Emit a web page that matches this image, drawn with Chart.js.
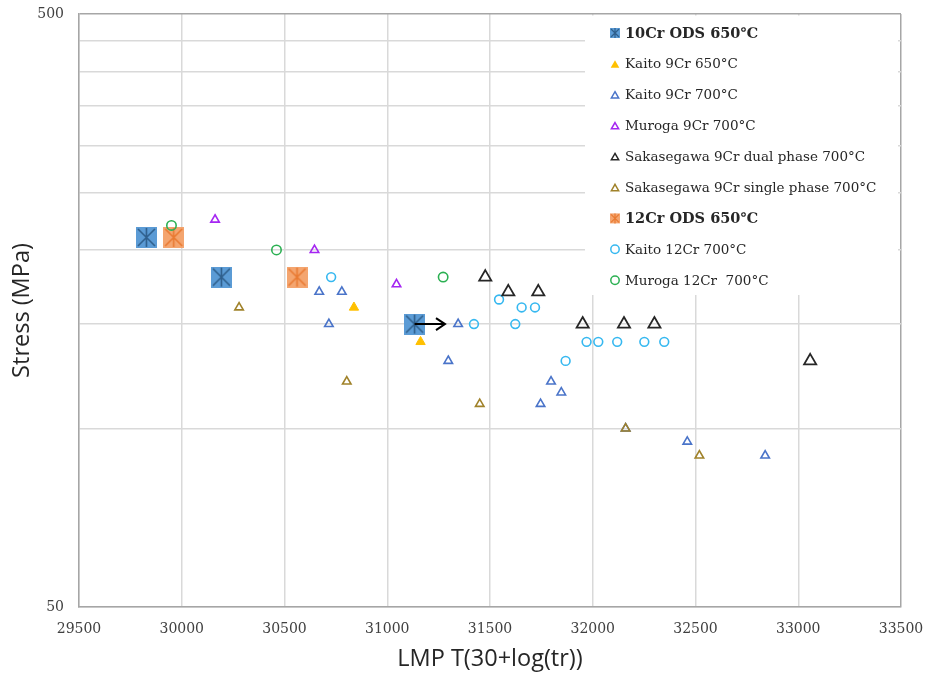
<!DOCTYPE html>
<html>
<head>
<meta charset="utf-8">
<script src="https://cdn.jsdelivr.net/npm/chart.js@4.4.1/dist/chart.umd.min.js"></script>
<style>
  html, body { margin: 0; padding: 0; background: #fff; }
  #wrap { width: 925px; height: 673px; }
</style>
</head>
<body>
<div id="wrap"><canvas id="chart" width="925" height="673"></canvas></div>
<script>
// axis ticks
const xTicks = [29500, 30000, 30500, 31000, 31500, 32000, 32500, 33000, 33500];
const yGrid = [50, 100, 150, 200, 250, 300, 350, 400, 450, 500];
const yLabelled = [50, 500];

// series: LMP (x) and stress in MPa (y)
const ods10LMP = [29828, 30193, 31133];
const ods10Stress = [210, 180, 150];
const kaito9Cr650LMP = [30838, 31162];
const kaito9Cr650Stress = [160, 140];
const kaito9Cr700LMP = [30669, 30779, 30716, 31297, 31345, 31797, 31847, 31746, 32160, 32460, 32839];
const kaito9Cr700Stress = [170, 170, 150, 130, 150, 120, 115, 110, 100, 95, 90];
const muroga9CrLMP = [30162, 30646, 31045];
const muroga9CrStress = [225, 200, 175];
const sakaDualLMP = [31477, 31589, 31735, 31951, 32152, 32300, 33058];
const sakaDualStress = [180, 170, 170, 150, 150, 150, 130];
const sakaSingleLMP = [30279, 30803, 31450, 32160, 32519];
const sakaSingleStress = [160, 120, 110, 100, 90];
const ods12LMP = [29961, 30561];
const ods12Stress = [210, 180];
const kaito12CrLMP = [30727, 31422, 31544, 31654, 31719, 31623, 31970, 32027, 32119, 32251, 32348, 31868];
const kaito12CrStress = [180, 150, 165, 160, 160, 150, 140, 140, 140, 140, 140, 130];
const muroga12CrLMP = [29950, 30461, 31272];
const muroga12CrStress = [220, 200, 180];

// run-out arrow on the last 10Cr ODS test
const runoutFromLMP = [31133];
const runoutToLMP = [31281];
const runoutStress = [150];

function pts(xs, ys) {
  return xs.map((x, i) => ({ x: x, y: ys[i] }));
}

// square marker with an asterisk on it (like the excel one)
function odsMarker(size, fill, line, lw) {
  const c = document.createElement('canvas');
  c.width = size; c.height = size;
  const g = c.getContext('2d');
  g.fillStyle = fill;
  g.fillRect(0, 0, size, size);
  g.strokeStyle = line;
  g.lineWidth = lw;
  g.beginPath();
  g.moveTo(size / 2, 1); g.lineTo(size / 2, size - 1);
  g.moveTo(2, 2); g.lineTo(size - 2, size - 2);
  g.moveTo(size - 2, 2); g.lineTo(2, size - 2);
  g.stroke();
  return c;
}

const BLUE_FILL = '#5b9bd5', BLUE_LINE = '#2f5f8c';
const ORANGE_FILL = '#f4a56f', ORANGE_LINE = '#e97a32';

function tri(label, xs, ys, color, filled, r, lw, order) {
  return {
    label: label,
    data: pts(xs, ys),
    pointStyle: 'triangle',
    pointRadius: r,
    pointBorderWidth: lw,
    pointBorderColor: color,
    pointBackgroundColor: filled ? color : 'rgba(0,0,0,0)',
    order: order || 1
  };
}
function circ(label, xs, ys, color, r) {
  return {
    label: label,
    data: pts(xs, ys),
    pointStyle: 'circle',
    pointRadius: r,
    pointBorderWidth: 1.6,
    pointBorderColor: color,
    pointBackgroundColor: 'rgba(0,0,0,0)',
    order: 1
  };
}
function ods(label, xs, ys, fill, line) {
  return {
    label: label,
    data: pts(xs, ys),
    pointStyle: odsMarker(21, fill, line, 1.6),
    pointRadius: 11,
    order: 2,
    legendFill: fill,
    legendLine: line
  };
}

const datasets = [
  ods('10Cr ODS 650℃', ods10LMP, ods10Stress, BLUE_FILL, BLUE_LINE),
  tri('Kaito 9Cr 650°C', kaito9Cr650LMP, kaito9Cr650Stress, '#ffc000', true, 5.4, 1),
  tri('Kaito 9Cr 700°C', kaito9Cr700LMP, kaito9Cr700Stress, '#4a74c9', false, 4.9, 1.6),
  tri('Muroga 9Cr 700°C', muroga9CrLMP, muroga9CrStress, '#a526f2', false, 4.9, 1.6),
  tri('Sakasegawa 9Cr dual phase 700°C', sakaDualLMP, sakaDualStress, '#262626', false, 7, 1.8),
  tri('Sakasegawa 9Cr single phase 700°C', sakaSingleLMP, sakaSingleStress, '#a0822a', false, 4.9, 1.6, 0.5),
  ods('12Cr ODS 650℃', ods12LMP, ods12Stress, ORANGE_FILL, ORANGE_LINE),
  circ('Kaito 12Cr 700°C', kaito12CrLMP, kaito12CrStress, '#36b8f0', 4.4),
  circ('Muroga 12Cr  700°C', muroga12CrLMP, muroga12CrStress, '#2bb052', 4.7)
];

// white legend box inside the plot, top right
const boxLegend = {
  id: 'boxLegend',
  beforeDatasetsDraw(chart) {
    const ctx = chart.ctx;
    const a = chart.chartArea;
    const left = a.right - 316, top = a.top + 1.5, right = a.right - 3, bottom = a.top + 281;
    ctx.save();
    ctx.fillStyle = '#fff';
    ctx.fillRect(left, top, right - left, bottom - top);
    ctx.textBaseline = 'middle';
    ctx.textAlign = 'left';
    chart.data.datasets.forEach((ds, i) => {
      const y = a.top + 19 + i * 30.9;
      const mx = left + 30;
      ctx.lineWidth = 1.5;
      if (ds.legendFill) {
        const s = 10;
        ctx.fillStyle = ds.legendFill;
        ctx.fillRect(mx - s / 2, y - s / 2, s, s);
        ctx.strokeStyle = ds.legendLine;
        ctx.lineWidth = 1.2;
        ctx.beginPath();
        ctx.moveTo(mx, y - s / 2); ctx.lineTo(mx, y + s / 2);
        ctx.moveTo(mx - s / 2 + 1, y - s / 2 + 1); ctx.lineTo(mx + s / 2 - 1, y + s / 2 - 1);
        ctx.moveTo(mx + s / 2 - 1, y - s / 2 + 1); ctx.lineTo(mx - s / 2 + 1, y + s / 2 - 1);
        ctx.stroke();
      } else if (ds.pointStyle === 'triangle') {
        const filled = ds.pointBackgroundColor !== 'rgba(0,0,0,0)';
        const r = filled ? 5 : 4.2;
        const cy = y + r / 4;
        ctx.beginPath();
        ctx.moveTo(mx, cy - r);
        ctx.lineTo(mx + r * 0.866, cy + r / 2);
        ctx.lineTo(mx - r * 0.866, cy + r / 2);
        ctx.closePath();
        if (filled) {
          ctx.fillStyle = ds.pointBorderColor;
          ctx.fill();
        } else {
          ctx.strokeStyle = ds.pointBorderColor;
          ctx.stroke();
        }
      } else {
        ctx.strokeStyle = ds.pointBorderColor;
        ctx.beginPath();
        ctx.arc(mx, y, 4.2, 0, Math.PI * 2);
        ctx.stroke();
      }
      ctx.fillStyle = '#262626';
      ctx.font = ds.legendFill ? 'bold 14.5px "DejaVu Serif"' : '13.5px "DejaVu Serif"';
      ctx.fillText(ds.label, left + 40, y + 1);
    });
    ctx.restore();
  }
};

// run-out arrows drawn on top of the points
const runoutArrows = {
  id: 'runoutArrows',
  afterDatasetsDraw(chart) {
    const ctx = chart.ctx;
    const xs = chart.scales.x, ys = chart.scales.y;
    ctx.save();
    ctx.strokeStyle = '#000';
    ctx.lineWidth = 2;
    runoutFromLMP.forEach((x0, i) => {
      const px0 = xs.getPixelForValue(x0);
      const px1 = xs.getPixelForValue(runoutToLMP[i]);
      const py = ys.getPixelForValue(runoutStress[i]);
      ctx.beginPath();
      ctx.moveTo(px0, py); ctx.lineTo(px1, py);
      ctx.moveTo(px1 - 9, py - 6); ctx.lineTo(px1, py); ctx.lineTo(px1 - 9, py + 6);
      ctx.stroke();
    });
    ctx.restore();
  }
};

new Chart(document.getElementById('chart'), {
  type: 'scatter',
  data: { datasets: datasets },
  options: {
    responsive: false,
    animation: false,
    layout: { padding: { left: 0, top: 14, right: 24, bottom: 0 } },
    plugins: {
      legend: { display: false },
      tooltip: { enabled: false }
    },
    scales: {
      x: {
        type: 'linear',
        min: 29500,
        max: 33500,
        afterBuildTicks: (scale) => { scale.ticks = xTicks.map(v => ({ value: v })); },
        afterFit: (scale) => {
          scale.height = 66;
          scale.paddingLeft = 0;
          scale.paddingRight = 0;
        },
        ticks: {
          autoSkip: false,
          maxRotation: 0,
          padding: 14,
          color: '#404040',
          font: { family: '"DejaVu Serif"', size: 14 },
          callback: (v) => String(v)
        },
        grid: {
          drawTicks: false,
          lineWidth: 1.5,
          color: (c) => (c.tick && c.tick.value === 33500 ? '#a6a6a6' : '#d9d9d9')
        },
        border: { color: '#a6a6a6', width: 1.5 },
        title: {
          display: true,
          text: 'LMP T(30+log(tr))',
          color: '#262626',
          font: { family: '"Open Sans"', size: 23.5 },
          padding: { top: 0, bottom: 0 }
        }
      },
      y: {
        type: 'logarithmic',
        min: 50,
        max: 500,
        afterBuildTicks: (scale) => { scale.ticks = yGrid.map(v => ({ value: v })); },
        afterFit: (scale) => {
          scale.width = 79;
          scale.paddingTop = 0;
          scale.paddingBottom = 0;
        },
        ticks: {
          autoSkip: false,
          padding: 15,
          color: '#404040',
          font: { family: '"DejaVu Serif"', size: 14 },
          callback: (v) => (yLabelled.includes(v) ? String(v) : '')
        },
        grid: {
          drawTicks: false,
          lineWidth: 1.5,
          color: (c) => (c.tick && c.tick.value === 500 ? '#a6a6a6' : '#d9d9d9')
        },
        border: { color: '#a6a6a6', width: 1.5 },
        title: {
          display: true,
          text: 'Stress (MPa)',
          color: '#262626',
          font: { family: '"Open Sans"', size: 23.5 },
          padding: { top: 8, bottom: 0 }
        }
      }
    }
  },
  plugins: [boxLegend, runoutArrows]
});
</script>
</body>
</html>
